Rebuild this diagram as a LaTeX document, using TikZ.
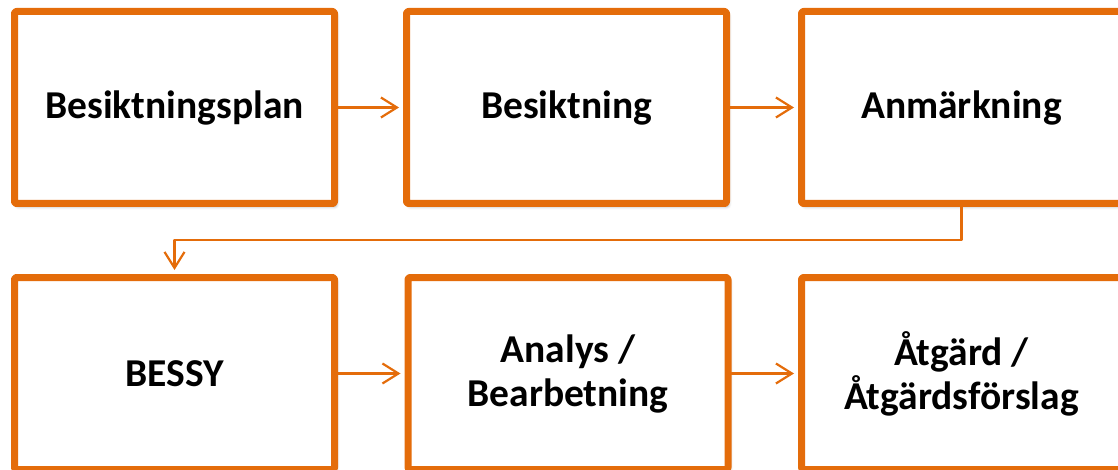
\documentclass[tikz,border=0pt]{standalone}
\usepackage{fontspec}
\setmainfont{Carlito}
\usepackage{tikz}
\usetikzlibrary{arrows.meta}
\usetikzlibrary{shadows.blur}
\definecolor{orng}{RGB}{228,108,10}

\begin{document}
\begin{tikzpicture}[line cap=round,line join=round,>={Straight Barb[length=16pt,width=20pt]},x=1pt,y=-1pt,
  stegbox/.style={draw=orng,line width=7pt,fill=white,rounded corners=2pt,minimum width=320pt,minimum height=192pt,align=center,font=\bfseries\fontsize{39.5}{44}\selectfont,blur shadow={shadow xshift=2pt,shadow yshift=-3pt,shadow blur radius=3pt,shadow opacity=35}},
  pil/.style={->,draw=orng,line width=2.2pt,shorten >=4pt}]
\useasboundingbox (0,0) rectangle (1118,470);
\clip (0,0) rectangle (1118,470);
\node[stegbox] (plan) at (174.5,107.5) {Besiktningsplan};
\node[stegbox] (besiktning) at (566.5,107.5) {Besiktning};
\node[stegbox] (anm) at (961.5,107.5) {Anmärkning};
\node[stegbox] (bessy) at (174.5,373.5) {BESSY};
\node[stegbox] (analys) at (568,373.5) {Analys /\\Bearbetning};
\node[stegbox] (atgard) at (961.5,373.5) {Åtgärd /\\Åtgärdsförslag};
\draw[pil] (plan) -- (besiktning);
\draw[pil] (besiktning) -- (anm);
\draw[pil] (anm.south) -- ++(0,33) -| (bessy.north);
\draw[pil] (bessy) -- (analys);
\draw[pil] (analys) -- (atgard);
\end{tikzpicture}
\end{document}
